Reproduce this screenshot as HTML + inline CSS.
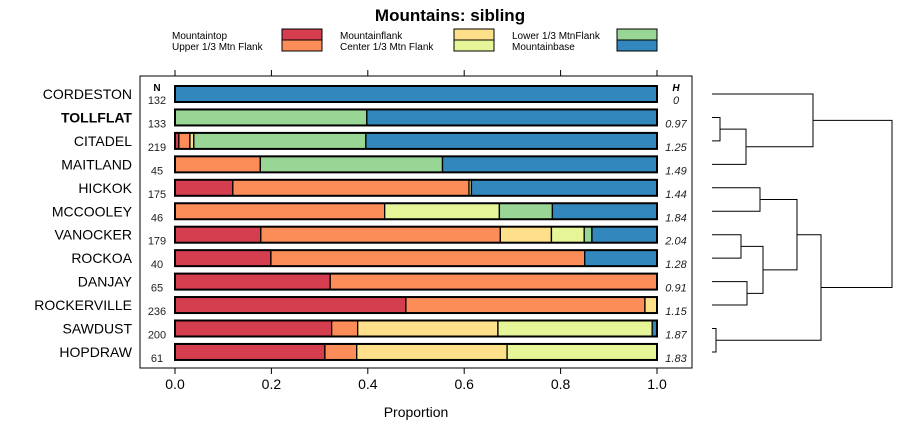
<!DOCTYPE html>
<html><head><meta charset="utf-8"><style>
body{margin:0;background:#fff;font-family:"Liberation Sans",sans-serif}
</style></head><body>
<svg id="c" width="900" height="440" xmlns="http://www.w3.org/2000/svg" font-family="Liberation Sans, sans-serif"></svg>
<script>
const categories=["CORDESTON","TOLLFLAT","CITADEL","MAITLAND","HICKOK","MCCOOLEY","VANOCKER","ROCKOA","DANJAY","ROCKERVILLE","SAWDUST","HOPDRAW"];
const seriesNames=["Mountaintop","Upper 1/3 Mtn Flank","Mountainflank","Center 1/3 Mtn Flank","Lower 1/3 MtnFlank","Mountainbase"];
const mountaintop=[0,0,0.008,0,0.12,0,0.178,0.199,0.322,0.479,0.325,0.311];
const upperFlank=[0,0,0.023,0.177,0.49,0.435,0.497,0.651,0.678,0.496,0.054,0.066];
const mountainflank=[0,0,0.008,0,0.005,0,0.106,0,0,0.025,0.291,0.312];
const centerFlank=[0,0,0,0,0,0.238,0.068,0,0,0,0.32,0.311];
const lowerFlank=[0,0.398,0.357,0.378,0,0.11,0.016,0,0,0,0,0];
const mountainbase=[1,0.602,0.604,0.445,0.385,0.217,0.135,0.15,0,0,0.01,0];
const nValues=["132","133","219","45","175","46","179","40","65","236","200","61"];
const hValues=["0","0.97","1.25","1.49","1.44","1.84","2.04","1.28","0.91","1.15","1.87","1.83"];
const ticks=[0,0.2,0.4,0.6,0.8,1.0];
const tickLabels=["0.0","0.2","0.4","0.6","0.8","1.0"];
const colors=["#D53E4F","#FC8D59","#FEE08B","#E6F598","#99D594","#3288BD"];
const series=[mountaintop,upperFlank,mountainflank,centerFlank,lowerFlank,mountainbase];
const svg=document.getElementById('c');
const NS="http://www.w3.org/2000/svg";
function mk(t,a,txt){const e=document.createElementNS(NS,t);for(const k in a)e.setAttribute(k,a[k]);if(txt!==undefined)e.textContent=txt;svg.appendChild(e);return e;}
const x=v=>175+v*482;
const y=i=>94+i*23.45;
let e=mk('text',{x:450,y:21,'text-anchor':'middle','font-size':17,'font-weight':'bold'},'Mountains: sibling');

const lg=[[172,282,36],[172,282,47],[340,454,36],[340,454,47],[512,617,36],[512,617,47]];
for(let k=0;k<6;k++){const p=lg[k];
e=mk('text',{x:p[0],y:p[2]+3,'font-size':10},seriesNames[k]);

e=mk('rect',{x:p[1],y:p[2]-7,width:40,height:11,fill:colors[k],stroke:'#000','stroke-width':1});
}
e=mk('rect',{x:140,y:76,width:552,height:292,fill:'none',stroke:'#000','stroke-width':1});

ticks.forEach((t,i)=>{
e=mk('line',{x1:x(t),x2:x(t),y1:70,y2:76,stroke:'#000'});
e=mk('line',{x1:x(t),x2:x(t),y1:368,y2:374,stroke:'#000'});
e=mk('text',{x:x(t),y:389,'text-anchor':'middle','font-size':14},tickLabels[i]);});
e=mk('text',{x:416,y:417,'text-anchor':'middle','font-size':14},'Proportion');
e=mk('text',{x:157,y:91,'text-anchor':'middle','font-size':10,'font-weight':'bold'},'N');
e=mk('text',{x:676,y:91,'text-anchor':'middle','font-size':10,'font-weight':'bold','font-style':'italic'},'H');
categories.forEach((c,i)=>{
const yc=y(i);
e=mk('text',{x:132,y:yc+5,'text-anchor':'end','font-size':14,'font-weight':c==='TOLLFLAT'?'bold':'normal'},c);

e=mk('text',{x:157,y:yc+10,'text-anchor':'middle','font-size':11,fill:'#222'},nValues[i]);

e=mk('text',{x:676,y:yc+10,'text-anchor':'middle','font-size':11,'font-style':'italic',fill:'#222'},hValues[i]);

let cum=0;
series.forEach((s,k)=>{const v=s[i];if(v<=0)return;
e=mk('rect',{x:x(cum),y:yc-8,width:x(cum+v)-x(cum),height:16,fill:colors[k],stroke:'#000','stroke-width':1.3});
cum+=v;});
e=mk('rect',{x:x(0),y:yc-8,width:x(1)-x(0),height:16,fill:'none',stroke:'#000','stroke-width':2});

});
// dendrogram: [leftY, rightY, mergeX, leftX, rightX]
const L=712;
function link(y1,y2,mx,x1,x2){
e=mk('path',{d:`M${x1},${y1}H${mx}V${y2}H${x2}`,fill:'none',stroke:'#000','stroke-width':1});
return (y1+y2)/2;}
const a=link(y(1),y(2),720,L,L);
const b=link(a,y(3),746,720,L);
const c=link(y(0),b,813,L,746);
const d=link(y(4),y(5),760,L,L);
const f=link(y(6),y(7),741,L,L);
const g=link(y(8),y(9),747,L,L);
const h=link(f,g,763,741,747);
const i2=link(d,h,797,760,763);
const j=link(y(10),y(11),716,L,L);
const k2=link(i2,j,821,797,716);
link(c,k2,892,813,821);
</script>
</body></html>
